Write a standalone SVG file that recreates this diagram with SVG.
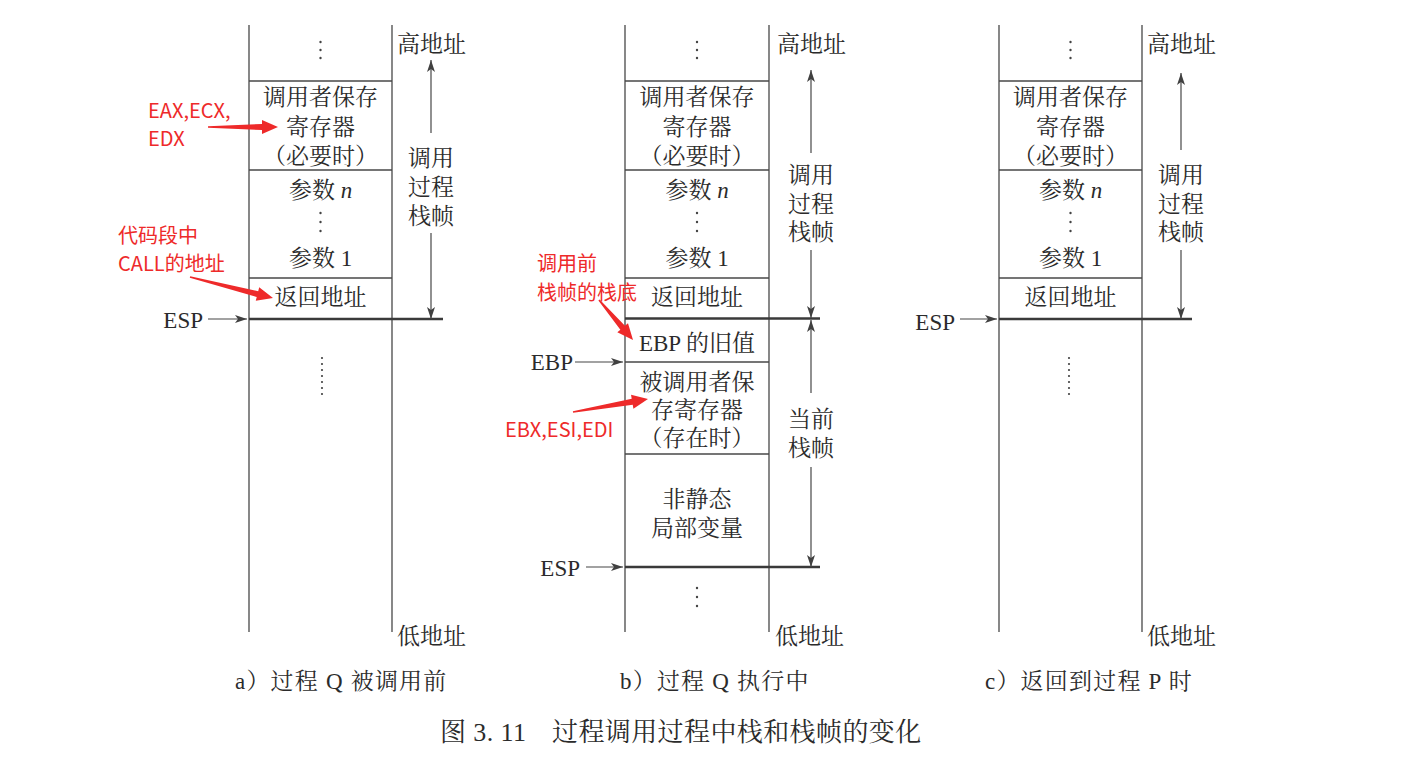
<svg xmlns="http://www.w3.org/2000/svg" width="1405" height="767" viewBox="0 0 1405 767">
<defs>
<marker id="ah" viewBox="0 0 12 8" refX="12" refY="4" markerWidth="12" markerHeight="8" markerUnits="userSpaceOnUse" orient="auto">
<path d="M0,0 L12,4 L0,8 L3,4 z" fill="#404040"/>
</marker>
</defs>
<style>
.ln{stroke:#474747;stroke-width:1.3;fill:none}
.thick{stroke:#3a3a3a;stroke-width:2.4;fill:none}
.t{font-family:"Liberation Serif","Noto Serif CJK SC","Noto Sans CJK SC",serif;font-size:23px;fill:#2b2b2b}
.c{text-anchor:middle}
.e{text-anchor:end}
.sub{letter-spacing:1.2px}
.cap{font-size:26px;letter-spacing:0.4px}
.r{font-family:"Noto Sans CJK SC","Noto Sans",sans-serif;font-size:20px;fill:#ee2a2a}
.ra{fill:#ee2a2a}
.dot{fill:#444}
.dl{stroke:#444;stroke-width:2.2;stroke-linecap:round;stroke-dasharray:0 6;fill:none}
.arr{stroke:#474747;stroke-width:1.2;fill:none;marker-end:url(#ah)}
</style>
<rect width="1405" height="767" fill="#ffffff"/>

<!-- Panel a -->
<g id="panel-a">
<line class="ln" x1="249" y1="25" x2="249" y2="632"/>
<line class="ln" x1="392" y1="25" x2="392" y2="632"/>
<g id="a-top"><circle class="dot" cx="320.5" cy="42" r="1.2"/><circle class="dot" cx="320.5" cy="50" r="1.2"/><circle class="dot" cx="320.5" cy="58" r="1.2"/></g>
<g id="a-saved"><line class="ln" x1="249" y1="81" x2="392" y2="81"/>
<text class="t c" x="320.5" y="104.5">调用者保存</text><text class="t c" x="320.5" y="134.5">寄存器</text><text class="t c" x="320.5" y="163.5">（必要时）</text></g>
<g id="a-args"><line class="ln" x1="249" y1="170" x2="392" y2="170"/>
<text class="t c" x="320.5" y="197.5">参数 <tspan font-style="italic">n</tspan></text>
<circle class="dot" cx="320.5" cy="213" r="1.2"/><circle class="dot" cx="320.5" cy="222" r="1.2"/><circle class="dot" cx="320.5" cy="231" r="1.2"/>
<text class="t c" x="320.5" y="265.5">参数 1</text></g>
<g id="a-ret"><line class="ln" x1="249" y1="278" x2="392" y2="278"/><text class="t c" x="320.5" y="304.5">返回地址</text></g>
<g id="a-below"><line class="thick" x1="249" y1="319" x2="443" y2="319"/><line class="dl" x1="322" y1="358" x2="322" y2="400"/></g>
<text class="t" x="397" y="51.5">高地址</text>
<text class="t" x="397" y="643.5">低地址</text>
<text class="t c" x="431" y="166">调用</text><text class="t c" x="431" y="195">过程</text><text class="t c" x="431" y="224">栈帧</text>
<text class="t" x="203" y="327.5" text-anchor="end">ESP</text>
<text class="t sub" x="235" y="688.5">a）过程 Q 被调用前</text>
</g>

<!-- Panel b -->
<g id="panel-b">
<line class="ln" x1="625" y1="25" x2="625" y2="632"/>
<line class="ln" x1="769" y1="25" x2="769" y2="632"/>
<g id="b-top"><circle class="dot" cx="697" cy="42" r="1.2"/><circle class="dot" cx="697" cy="50" r="1.2"/><circle class="dot" cx="697" cy="58" r="1.2"/></g>
<g id="b-saved"><line class="ln" x1="625" y1="81" x2="769" y2="81"/>
<text class="t c" x="697" y="104.5">调用者保存</text><text class="t c" x="697" y="134.5">寄存器</text><text class="t c" x="697" y="163.5">（必要时）</text></g>
<g id="b-args"><line class="ln" x1="625" y1="170" x2="769" y2="170"/>
<text class="t c" x="697" y="197.5">参数 <tspan font-style="italic">n</tspan></text>
<circle class="dot" cx="697" cy="213" r="1.2"/><circle class="dot" cx="697" cy="222" r="1.2"/><circle class="dot" cx="697" cy="231" r="1.2"/>
<text class="t c" x="697" y="265.5">参数 1</text></g>
<g id="b-ret"><line class="ln" x1="625" y1="278" x2="769" y2="278"/><text class="t c" x="697" y="305">返回地址</text></g>
<g id="b-oldebp"><line class="thick" x1="625" y1="318.5" x2="820" y2="318.5"/><text class="t c" x="697" y="350.5">EBP 的旧值</text></g>
<g id="b-calleesaved"><line class="ln" x1="625" y1="362" x2="769" y2="362"/>
<text class="t c" x="697" y="390">被调用者保</text><text class="t c" x="697" y="418">存寄存器</text><text class="t c" x="697" y="446">（存在时）</text></g>
<g id="b-locals"><line class="ln" x1="625" y1="454" x2="769" y2="454"/>
<text class="t c" x="697" y="507">非静态</text><text class="t c" x="697" y="536">局部变量</text></g>
<g id="b-below"><line class="thick" x1="625" y1="567" x2="820" y2="567"/>
<circle class="dot" cx="697" cy="588" r="1.2"/><circle class="dot" cx="697" cy="597" r="1.2"/><circle class="dot" cx="697" cy="606" r="1.2"/></g>
<text class="t" x="777" y="51.5">高地址</text>
<text class="t" x="775" y="643.5">低地址</text>
<text class="t c" x="811" y="182.5">调用</text><text class="t c" x="811" y="211.5">过程</text><text class="t c" x="811" y="239.5">栈帧</text>
<text class="t c" x="811" y="426.5">当前</text><text class="t c" x="811" y="455.5">栈帧</text>
<text class="t e" x="573" y="370">EBP</text>
<text class="t e" x="580" y="575.5">ESP</text>
<text class="t sub" x="620" y="688.5">b）过程 Q 执行中</text>
</g>

<!-- Panel c -->
<g id="panel-c">
<line class="ln" x1="999" y1="25" x2="999" y2="632"/>
<line class="ln" x1="1142" y1="25" x2="1142" y2="632"/>
<g id="c-top"><circle class="dot" cx="1070.5" cy="42" r="1.2"/><circle class="dot" cx="1070.5" cy="50" r="1.2"/><circle class="dot" cx="1070.5" cy="58" r="1.2"/></g>
<g id="c-saved"><line class="ln" x1="999" y1="81" x2="1142" y2="81"/>
<text class="t c" x="1070.5" y="104.5">调用者保存</text><text class="t c" x="1070.5" y="134.5">寄存器</text><text class="t c" x="1070.5" y="163.5">（必要时）</text></g>
<g id="c-args"><line class="ln" x1="999" y1="170" x2="1142" y2="170"/>
<text class="t c" x="1070.5" y="197.5">参数 <tspan font-style="italic">n</tspan></text>
<circle class="dot" cx="1070.5" cy="213" r="1.2"/><circle class="dot" cx="1070.5" cy="222" r="1.2"/><circle class="dot" cx="1070.5" cy="231" r="1.2"/>
<text class="t c" x="1070.5" y="265.5">参数 1</text></g>
<g id="c-ret"><line class="ln" x1="999" y1="278" x2="1142" y2="278"/><text class="t c" x="1070.5" y="305">返回地址</text></g>
<g id="c-below"><line class="thick" x1="999" y1="319" x2="1192" y2="319"/><line class="dl" x1="1069" y1="358" x2="1069" y2="400"/></g>
<text class="t" x="1147" y="51.5">高地址</text>
<text class="t" x="1147" y="643.5">低地址</text>
<text class="t c" x="1181" y="182.5">调用</text><text class="t c" x="1181" y="211.5">过程</text><text class="t c" x="1181" y="239.5">栈帧</text>
<text class="t e" x="955" y="329.5">ESP</text>
<text class="t sub" x="985" y="688.5">c）返回到过程 P 时</text>
</g>

<!-- Red annotations -->
<g id="notes">
<text class="r" x="148" y="118">EAX,ECX,</text>
<text class="r" x="148" y="146">EDX</text>
<text class="r" x="118" y="243">代码段中</text>
<text class="r" x="118" y="271">CALL的地址</text>
<text class="r" x="537" y="271">调用前</text>
<text class="r" x="537" y="300">栈帧的栈底</text>
<text class="r" x="505" y="437">EBX,ESI,EDI</text>
</g>

<!-- Connectors -->
<g id="connectors">
<line class="arr" x1="431" y1="133" x2="431" y2="60"/>
<line class="arr" x1="431" y1="233" x2="431" y2="319"/>
<line class="arr" x1="208" y1="319" x2="247" y2="319"/>

<line class="arr" x1="811" y1="153" x2="811" y2="70"/>
<line class="arr" x1="811" y1="250" x2="811" y2="318"/>
<line class="arr" x1="811" y1="393" x2="811" y2="320"/>
<line class="arr" x1="811" y1="467" x2="811" y2="567"/>
<line class="arr" x1="575" y1="362" x2="623" y2="362"/>
<line class="arr" x1="586" y1="567" x2="623" y2="567"/>

<line class="arr" x1="1181" y1="150" x2="1181" y2="73"/>
<line class="arr" x1="1181" y1="250" x2="1181" y2="319"/>
<line class="arr" x1="960" y1="319" x2="997" y2="319"/>

<path class="ra" transform="translate(208,127)" d="M0,-0.8 L54,-3 L54,-7 L70,0 L54,7 L54,3 L0,0.8 Z"/>
<path class="ra" transform="translate(190,277) rotate(14.2)" d="M0,-0.8 L69.6,-3 L69.6,-7 L85.6,0 L69.6,7 L69.6,3 L0,0.8 Z"/>
<path class="ra" transform="translate(599,300) rotate(49.6)" d="M0,-0.8 L36.5,-3 L36.5,-7 L52.5,0 L36.5,7 L36.5,3 L0,0.8 Z"/>
<path class="ra" transform="translate(573,412) rotate(-9.8)" d="M0,-0.8 L60.1,-3 L60.1,-7 L76.1,0 L60.1,7 L60.1,3 L0,0.8 Z"/>
</g>

<text class="t cap" x="440" y="741">图 3. 11<tspan x="552">过程调用过程中栈和栈帧的变化</tspan></text>
</svg>
